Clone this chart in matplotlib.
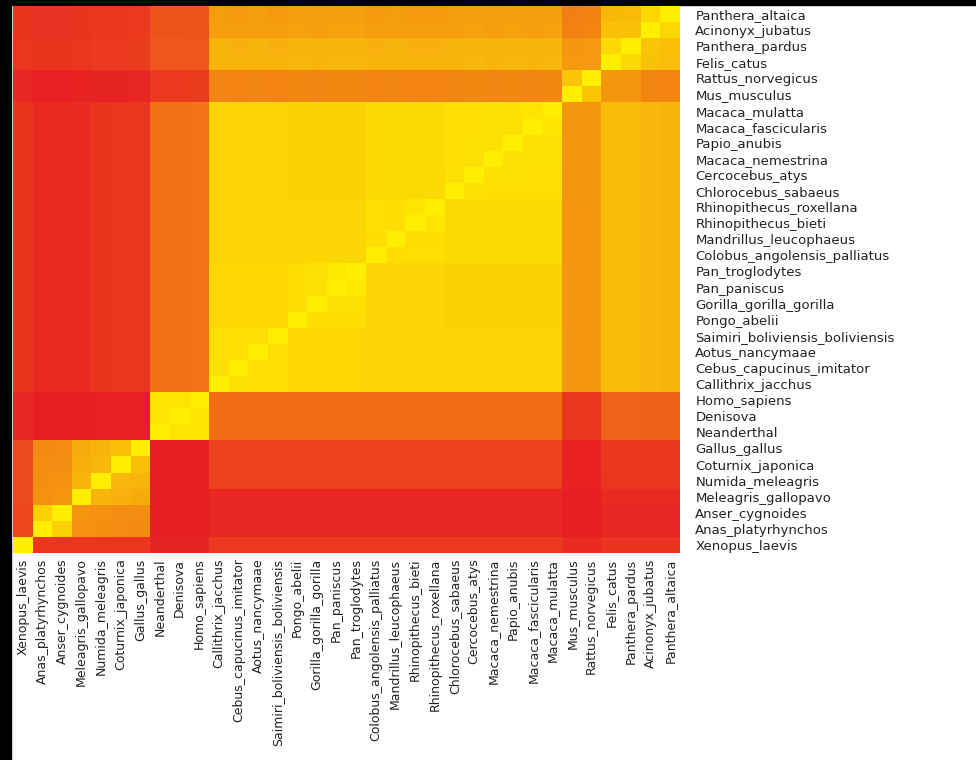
import matplotlib

matplotlib.use("Agg")
import matplotlib.pyplot as plt
import numpy as np
from matplotlib.colors import LinearSegmentedColormap
from matplotlib.patches import Rectangle

# row labels, top to bottom (shown on the right)
ROW_LABELS = [
    "Panthera_altaica", "Acinonyx_jubatus", "Panthera_pardus", "Felis_catus",
    "Rattus_norvegicus", "Mus_musculus", "Macaca_mulatta", "Macaca_fascicularis",
    "Papio_anubis", "Macaca_nemestrina", "Cercocebus_atys", "Chlorocebus_sabaeus",
    "Rhinopithecus_roxellana", "Rhinopithecus_bieti", "Mandrillus_leucophaeus",
    "Colobus_angolensis_palliatus", "Pan_troglodytes", "Pan_paniscus",
    "Gorilla_gorilla_gorilla", "Pongo_abelii", "Saimiri_boliviensis_boliviensis",
    "Aotus_nancymaae", "Cebus_capucinus_imitator", "Callithrix_jacchus",
    "Homo_sapiens", "Denisova", "Neanderthal", "Gallus_gallus", "Coturnix_japonica",
    "Numida_meleagris", "Meleagris_gallopavo", "Anser_cygnoides",
    "Anas_platyrhynchos", "Xenopus_laevis",
]

# column labels, left to right (shown at the bottom)
COL_LABELS = ROW_LABELS[::-1]

# similarity, one row per ROW_LABELS entry, columns in COL_LABELS order
SIMILARITY = [
    # Panthera_altaica
    [0.11, 0.10, 0.10, 0.11, 0.13, 0.13, 0.14, 0.25, 0.25, 0.26, 0.61, 0.60, 0.61, 0.60, 0.62, 0.61, 0.62, 0.62, 0.60, 0.61, 0.60, 0.60, 0.61, 0.62, 0.61, 0.62, 0.61, 0.62, 0.47, 0.48, 0.74, 0.75, 0.89, 1.00],
    # Acinonyx_jubatus
    [0.11, 0.10, 0.10, 0.11, 0.13, 0.13, 0.14, 0.25, 0.25, 0.26, 0.62, 0.61, 0.62, 0.61, 0.63, 0.62, 0.63, 0.63, 0.61, 0.62, 0.61, 0.61, 0.62, 0.63, 0.62, 0.63, 0.62, 0.63, 0.48, 0.49, 0.78, 0.79, 1.00, 0.89],
    # Panthera_pardus
    [0.12, 0.11, 0.11, 0.12, 0.14, 0.14, 0.15, 0.27, 0.27, 0.28, 0.72, 0.71, 0.72, 0.71, 0.73, 0.72, 0.73, 0.73, 0.71, 0.72, 0.71, 0.71, 0.72, 0.73, 0.72, 0.73, 0.72, 0.73, 0.58, 0.59, 0.90, 1.00, 0.80, 0.78],
    # Felis_catus
    [0.12, 0.11, 0.11, 0.12, 0.14, 0.14, 0.15, 0.27, 0.27, 0.28, 0.73, 0.72, 0.73, 0.72, 0.74, 0.73, 0.74, 0.74, 0.72, 0.73, 0.72, 0.72, 0.73, 0.74, 0.73, 0.74, 0.73, 0.74, 0.59, 0.60, 1.00, 0.90, 0.79, 0.77],
    # Rattus_norvegicus
    [0.05, 0.01, 0.01, 0.02, 0.03, 0.03, 0.04, 0.14, 0.14, 0.15, 0.50, 0.49, 0.50, 0.49, 0.51, 0.50, 0.51, 0.51, 0.49, 0.50, 0.49, 0.49, 0.50, 0.51, 0.50, 0.51, 0.50, 0.51, 0.80, 1.00, 0.58, 0.57, 0.50, 0.49],
    # Mus_musculus
    [0.05, 0.01, 0.01, 0.02, 0.03, 0.03, 0.04, 0.14, 0.14, 0.15, 0.50, 0.49, 0.50, 0.49, 0.51, 0.50, 0.51, 0.51, 0.49, 0.50, 0.49, 0.49, 0.50, 0.51, 0.50, 0.51, 0.50, 0.51, 1.00, 0.80, 0.58, 0.57, 0.50, 0.49],
    # Macaca_mulatta
    [0.11, 0.06, 0.06, 0.07, 0.11, 0.12, 0.12, 0.41, 0.41, 0.42, 0.87, 0.87, 0.87, 0.87, 0.86, 0.86, 0.86, 0.86, 0.90, 0.90, 0.90, 0.90, 0.93, 0.93, 0.94, 0.94, 0.96, 1.00, 0.58, 0.58, 0.76, 0.76, 0.74, 0.73],
    # Macaca_fascicularis
    [0.11, 0.06, 0.06, 0.07, 0.11, 0.12, 0.12, 0.41, 0.41, 0.42, 0.87, 0.87, 0.87, 0.87, 0.86, 0.86, 0.86, 0.86, 0.90, 0.90, 0.90, 0.90, 0.93, 0.93, 0.94, 0.94, 1.00, 0.96, 0.58, 0.58, 0.76, 0.76, 0.74, 0.73],
    # Papio_anubis
    [0.11, 0.06, 0.06, 0.07, 0.11, 0.12, 0.12, 0.41, 0.41, 0.42, 0.87, 0.87, 0.87, 0.87, 0.86, 0.86, 0.86, 0.86, 0.90, 0.90, 0.90, 0.90, 0.93, 0.94, 0.94, 1.00, 0.94, 0.94, 0.58, 0.58, 0.76, 0.76, 0.74, 0.73],
    # Macaca_nemestrina
    [0.11, 0.06, 0.06, 0.07, 0.11, 0.12, 0.12, 0.41, 0.41, 0.42, 0.87, 0.87, 0.87, 0.87, 0.86, 0.86, 0.86, 0.86, 0.90, 0.90, 0.90, 0.90, 0.93, 0.94, 1.00, 0.94, 0.94, 0.94, 0.58, 0.58, 0.76, 0.76, 0.74, 0.73],
    # Cercocebus_atys
    [0.11, 0.06, 0.06, 0.07, 0.11, 0.12, 0.12, 0.41, 0.41, 0.42, 0.87, 0.87, 0.87, 0.87, 0.86, 0.86, 0.86, 0.86, 0.90, 0.90, 0.90, 0.90, 0.94, 1.00, 0.94, 0.94, 0.93, 0.93, 0.58, 0.58, 0.76, 0.76, 0.74, 0.73],
    # Chlorocebus_sabaeus
    [0.11, 0.06, 0.06, 0.07, 0.11, 0.12, 0.12, 0.41, 0.41, 0.42, 0.87, 0.87, 0.87, 0.87, 0.86, 0.86, 0.86, 0.86, 0.90, 0.90, 0.90, 0.90, 1.00, 0.94, 0.93, 0.93, 0.93, 0.93, 0.58, 0.58, 0.76, 0.76, 0.74, 0.73],
    # Rhinopithecus_roxellana
    [0.11, 0.06, 0.06, 0.07, 0.11, 0.12, 0.12, 0.41, 0.41, 0.42, 0.87, 0.87, 0.87, 0.87, 0.88, 0.88, 0.88, 0.88, 0.93, 0.92, 0.96, 1.00, 0.90, 0.90, 0.90, 0.90, 0.90, 0.90, 0.58, 0.58, 0.76, 0.76, 0.74, 0.73],
    # Rhinopithecus_bieti
    [0.11, 0.06, 0.06, 0.07, 0.11, 0.12, 0.12, 0.41, 0.41, 0.42, 0.87, 0.87, 0.87, 0.87, 0.88, 0.88, 0.88, 0.88, 0.93, 0.92, 1.00, 0.96, 0.90, 0.90, 0.90, 0.90, 0.90, 0.90, 0.58, 0.58, 0.76, 0.76, 0.74, 0.73],
    # Mandrillus_leucophaeus
    [0.11, 0.06, 0.06, 0.07, 0.11, 0.12, 0.12, 0.41, 0.41, 0.42, 0.87, 0.87, 0.87, 0.87, 0.88, 0.88, 0.88, 0.88, 0.92, 1.00, 0.92, 0.92, 0.90, 0.90, 0.90, 0.90, 0.90, 0.90, 0.58, 0.58, 0.76, 0.76, 0.74, 0.73],
    # Colobus_angolensis_palliatus
    [0.11, 0.06, 0.06, 0.07, 0.11, 0.12, 0.12, 0.41, 0.41, 0.42, 0.87, 0.87, 0.87, 0.87, 0.88, 0.88, 0.88, 0.88, 1.00, 0.92, 0.93, 0.93, 0.90, 0.90, 0.90, 0.90, 0.90, 0.90, 0.58, 0.58, 0.76, 0.76, 0.74, 0.73],
    # Pan_troglodytes
    [0.11, 0.06, 0.06, 0.07, 0.11, 0.12, 0.12, 0.41, 0.41, 0.42, 0.89, 0.89, 0.89, 0.89, 0.92, 0.94, 0.97, 1.00, 0.88, 0.88, 0.88, 0.88, 0.86, 0.86, 0.86, 0.86, 0.86, 0.86, 0.58, 0.58, 0.76, 0.76, 0.74, 0.73],
    # Pan_paniscus
    [0.11, 0.06, 0.06, 0.07, 0.11, 0.12, 0.12, 0.41, 0.41, 0.42, 0.89, 0.89, 0.89, 0.89, 0.92, 0.94, 1.00, 0.97, 0.88, 0.88, 0.88, 0.88, 0.86, 0.86, 0.86, 0.86, 0.86, 0.86, 0.58, 0.58, 0.76, 0.76, 0.74, 0.73],
    # Gorilla_gorilla_gorilla
    [0.11, 0.06, 0.06, 0.07, 0.11, 0.12, 0.12, 0.41, 0.41, 0.42, 0.89, 0.89, 0.89, 0.89, 0.92, 1.00, 0.94, 0.94, 0.88, 0.88, 0.88, 0.88, 0.86, 0.86, 0.86, 0.86, 0.86, 0.86, 0.58, 0.58, 0.76, 0.76, 0.74, 0.73],
    # Pongo_abelii
    [0.11, 0.06, 0.06, 0.07, 0.11, 0.12, 0.12, 0.41, 0.41, 0.42, 0.89, 0.89, 0.89, 0.89, 1.00, 0.92, 0.92, 0.92, 0.88, 0.88, 0.88, 0.88, 0.86, 0.86, 0.86, 0.86, 0.86, 0.86, 0.58, 0.58, 0.76, 0.76, 0.74, 0.73],
    # Saimiri_boliviensis_boliviensis
    [0.11, 0.06, 0.06, 0.07, 0.11, 0.12, 0.12, 0.41, 0.41, 0.42, 0.93, 0.93, 0.93, 1.00, 0.89, 0.89, 0.89, 0.89, 0.87, 0.87, 0.87, 0.87, 0.87, 0.87, 0.87, 0.87, 0.87, 0.87, 0.58, 0.58, 0.76, 0.76, 0.74, 0.73],
    # Aotus_nancymaae
    [0.11, 0.06, 0.06, 0.07, 0.11, 0.12, 0.12, 0.41, 0.41, 0.42, 0.93, 0.93, 1.00, 0.93, 0.89, 0.89, 0.89, 0.89, 0.87, 0.87, 0.87, 0.87, 0.87, 0.87, 0.87, 0.87, 0.87, 0.87, 0.58, 0.58, 0.76, 0.76, 0.74, 0.73],
    # Cebus_capucinus_imitator
    [0.11, 0.06, 0.06, 0.07, 0.11, 0.12, 0.12, 0.41, 0.41, 0.42, 0.94, 1.00, 0.93, 0.93, 0.89, 0.89, 0.89, 0.89, 0.87, 0.87, 0.87, 0.87, 0.87, 0.87, 0.87, 0.87, 0.87, 0.87, 0.58, 0.58, 0.76, 0.76, 0.74, 0.73],
    # Callithrix_jacchus
    [0.11, 0.06, 0.06, 0.07, 0.11, 0.12, 0.12, 0.41, 0.41, 0.42, 1.00, 0.94, 0.93, 0.93, 0.89, 0.89, 0.89, 0.89, 0.87, 0.87, 0.87, 0.87, 0.87, 0.87, 0.87, 0.87, 0.87, 0.87, 0.58, 0.58, 0.76, 0.76, 0.74, 0.73],
    # Homo_sapiens
    [0.04, 0.00, 0.00, 0.00, 0.01, 0.01, 0.01, 0.95, 0.95, 1.00, 0.38, 0.38, 0.38, 0.38, 0.38, 0.38, 0.38, 0.38, 0.38, 0.38, 0.38, 0.38, 0.38, 0.38, 0.38, 0.38, 0.38, 0.38, 0.13, 0.13, 0.33, 0.33, 0.32, 0.32],
    # Denisova
    [0.04, 0.00, 0.00, 0.00, 0.01, 0.01, 0.01, 0.95, 1.00, 0.95, 0.38, 0.38, 0.38, 0.38, 0.38, 0.38, 0.38, 0.38, 0.38, 0.38, 0.38, 0.38, 0.38, 0.38, 0.38, 0.38, 0.38, 0.38, 0.13, 0.13, 0.33, 0.33, 0.32, 0.32],
    # Neanderthal
    [0.04, 0.00, 0.00, 0.00, 0.01, 0.01, 0.01, 1.00, 0.95, 0.95, 0.38, 0.38, 0.38, 0.38, 0.38, 0.38, 0.38, 0.38, 0.38, 0.38, 0.38, 0.38, 0.38, 0.38, 0.38, 0.38, 0.38, 0.38, 0.13, 0.13, 0.33, 0.33, 0.32, 0.32],
    # Gallus_gallus
    [0.22, 0.52, 0.53, 0.68, 0.72, 0.78, 1.00, 0.00, 0.00, 0.00, 0.18, 0.18, 0.18, 0.18, 0.18, 0.18, 0.18, 0.18, 0.18, 0.18, 0.18, 0.18, 0.18, 0.18, 0.18, 0.18, 0.18, 0.18, 0.02, 0.02, 0.13, 0.13, 0.13, 0.13],
    # Coturnix_japonica
    [0.22, 0.53, 0.54, 0.70, 0.74, 1.00, 0.78, 0.00, 0.00, 0.00, 0.18, 0.18, 0.18, 0.18, 0.18, 0.18, 0.18, 0.18, 0.18, 0.18, 0.18, 0.18, 0.18, 0.18, 0.18, 0.18, 0.18, 0.18, 0.02, 0.02, 0.13, 0.13, 0.13, 0.13],
    # Numida_meleagris
    [0.22, 0.55, 0.56, 0.72, 1.00, 0.74, 0.72, 0.00, 0.00, 0.00, 0.17, 0.17, 0.17, 0.17, 0.17, 0.17, 0.17, 0.17, 0.17, 0.17, 0.17, 0.17, 0.17, 0.17, 0.17, 0.17, 0.17, 0.17, 0.02, 0.02, 0.12, 0.12, 0.12, 0.12],
    # Meleagris_gallopavo
    [0.22, 0.56, 0.57, 1.00, 0.72, 0.70, 0.68, 0.00, 0.00, 0.00, 0.05, 0.05, 0.05, 0.05, 0.05, 0.05, 0.05, 0.05, 0.05, 0.05, 0.05, 0.05, 0.05, 0.05, 0.05, 0.05, 0.05, 0.05, 0.00, 0.00, 0.06, 0.06, 0.06, 0.06],
    # Anser_cygnoides
    [0.20, 0.86, 1.00, 0.57, 0.56, 0.54, 0.53, 0.00, 0.00, 0.00, 0.04, 0.04, 0.04, 0.04, 0.04, 0.04, 0.04, 0.04, 0.04, 0.04, 0.04, 0.04, 0.04, 0.04, 0.04, 0.04, 0.04, 0.04, 0.00, 0.00, 0.05, 0.05, 0.05, 0.05],
    # Anas_platyrhynchos
    [0.20, 1.00, 0.86, 0.56, 0.55, 0.53, 0.52, 0.00, 0.00, 0.00, 0.04, 0.04, 0.04, 0.04, 0.04, 0.04, 0.04, 0.04, 0.04, 0.04, 0.04, 0.04, 0.04, 0.04, 0.04, 0.04, 0.04, 0.04, 0.00, 0.00, 0.05, 0.05, 0.05, 0.05],
    # Xenopus_laevis
    [1.00, 0.12, 0.12, 0.12, 0.12, 0.12, 0.12, 0.03, 0.03, 0.03, 0.14, 0.14, 0.14, 0.14, 0.14, 0.14, 0.14, 0.14, 0.14, 0.14, 0.14, 0.14, 0.14, 0.14, 0.14, 0.14, 0.14, 0.14, 0.06, 0.06, 0.11, 0.11, 0.11, 0.11],
]

W, H = 976, 760


def main():
    data = np.array(SIMILARITY, dtype=float)
    assert data.shape == (len(ROW_LABELS), len(COL_LABELS))

    cmap = LinearSegmentedColormap.from_list("heat", ["#E81E24", "#FFEE00"])

    fig = plt.figure(figsize=(W / 100, H / 100), dpi=100, facecolor="white")
    # black strips along the left and top edges
    fig.add_artist(Rectangle((0, 0), 11 / W, 1, transform=fig.transFigure, color="black", zorder=0))
    fig.add_artist(Rectangle((0, 1 - 5 / H), 1, 5 / H, transform=fig.transFigure, color="black", zorder=0))

    left, right, top, bottom = 13 / W, 680 / W, 1 - 6 / H, 1 - 553 / H
    ax = fig.add_axes([left, bottom, right - left, top - bottom])
    ax.imshow(data, cmap=cmap, vmin=0, vmax=1, aspect="auto", interpolation="nearest")

    ax.set_xticks(range(len(COL_LABELS)))
    ax.set_xticklabels(COL_LABELS, rotation=90, fontsize=9, color="#222222")
    ax.yaxis.tick_right()
    ax.set_yticks(range(len(ROW_LABELS)))
    ax.set_yticklabels(ROW_LABELS, fontsize=9.5, color="#222222")
    ax.tick_params(axis="x", length=0, pad=4)
    ax.tick_params(axis="y", length=0, pad=11)
    for s in ax.spines.values():
        s.set_visible(False)

    fig.savefig("out.png", dpi=100, facecolor="white")


if __name__ == "__main__":
    main()
